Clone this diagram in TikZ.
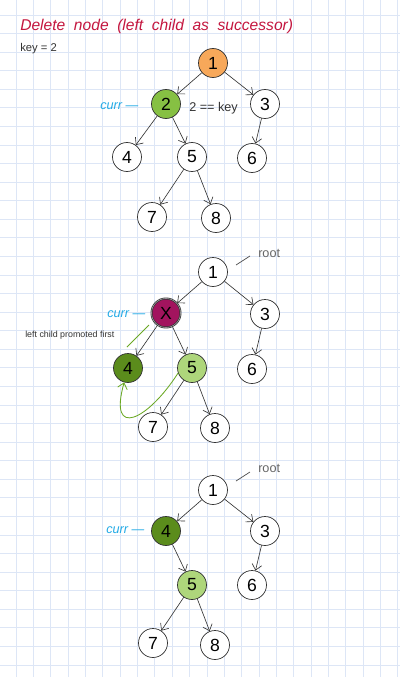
\documentclass[tikz,border=0pt]{standalone}
\usepackage{fontspec}
\setmainfont{Liberation Sans}
\usepackage{xcolor}
\usetikzlibrary{positioning,arrows.meta,calc}
\definecolor{gridblue}{HTML}{DDE6F6}
\definecolor{titlered}{HTML}{C4163F}
\definecolor{currblue}{HTML}{22AAE6}
\definecolor{rootorange}{HTML}{F7A85A}
\definecolor{hitgreen}{HTML}{86C043}
\definecolor{delmagenta}{HTML}{A2145E}
\definecolor{newgreen}{HTML}{5B8C1C}
\definecolor{lightgreen}{HTML}{AED67B}
\definecolor{hintgreen}{HTML}{6AA823}

\begin{document}
\begin{tikzpicture}[
   x=0.025cm, y=-0.025cm,
   tnode/.style = {circle, draw=black!80, fill=white, line width=0.5pt,
                   minimum size=29*0.025cm, inner sep=0pt,
                   font=\fontsize{12.5}{14}\selectfont},
   arr/.style = {-{Straight Barb[length=4pt,width=7pt]}, black!80, line width=0.45pt},
   currlbl/.style = {anchor=west, text=currblue, font=\fontsize{9}{10}\selectfont\itshape, inner sep=0pt},
   note/.style = {anchor=west, text=black!80, inner sep=0pt},
   promote/.style = {hintgreen, line width=0.6pt}
]
\useasboundingbox (0,0) rectangle (400,677);
\fill[white] (0,0) rectangle (400,677);
\foreach \i in {0,...,22} \draw[gridblue, line width=0.5pt] ({16+17.35*\i},0) -- ({16+17.35*\i},677);
\foreach \j in {0,...,35} \draw[gridblue, line width=0.5pt] (0,{15+18.57*\j}) -- (400,{15+18.57*\j});

\node[anchor=base west, inner sep=0pt, text=titlered,
      font=\fontsize{11.1}{13}\selectfont\itshape] (title) at (20,30)
      {\spaceskip=0.55em\relax Delete node (left child as successor)};
\node[note, font=\fontsize{8}{9}\selectfont] (key) at (20,49) {key = 2};

% first tree: find the key
\node[tnode, fill=rootorange] (a1) at (213,63)  {1};
\node[tnode, fill=hitgreen]   (a2) at (166,104) {2};
\node[tnode]                  (a3) at (265,104) {3};
\node[tnode]                  (a4) at (127,157) {4};
\node[tnode]                  (a5) at (192,157) {5};
\node[tnode]                  (a6) at (252,158) {6};
\node[tnode]                  (a7) at (152,217) {7};
\node[tnode]                  (a8) at (216,218) {8};
\node[currlbl] (acurr) at (100,106) {curr —};
\node[note, font=\fontsize{9}{10}\selectfont] (match) at (189,108) {2 == key};
\draw[arr] (a1) -- (a2);
\draw[arr] (a1) -- (a3);
\draw[arr] (a2) -- (a4);
\draw[arr] (a2) -- (a5);
\draw[arr] (a3) -- (a6);
\draw[arr] (a5) -- (a7);
\draw[arr] (a5) -- (a8);

% second tree: promote left child
\node[tnode]                  (b1) at (213,272) {1};
\node[tnode, fill=delmagenta, double=black!35, double distance=0.4pt]
                              (b2) at (166,313) {X};
\node[tnode]                  (b3) at (265,314) {3};
\node[tnode, fill=newgreen]   (b4) at (128,368) {4};
\node[tnode, fill=lightgreen] (b5) at (192,368) {5};
\node[tnode]                  (b6) at (252,369) {6};
\node[tnode]                  (b7) at (153,427) {7};
\node[tnode]                  (b8) at (215,428) {8};
\node[currlbl] (bcurr) at (107,314) {curr —};
\node[note, text=black!60, font=\fontsize{9}{10}\selectfont] (broot) at (258,253) {root};
\coordinate (brootA) at (236,265);
\coordinate (brootB) at (250,256);
\draw[black!70, line width=0.5pt] (brootA) -- (brootB);
\node[note, font=\fontsize{6.3}{7}\selectfont] (bnote) at (25,335) {left child promoted first};
\coordinate (hintA) at (149,325);
\coordinate (hintB) at (127,347);
\draw[promote] (hintA) -- (hintB);
\draw[arr] (b1) -- (b2);
\draw[arr] (b1) -- (b3);
\draw[arr] (b2) -- (b4);
\draw[arr] (b2) -- (b5);
\draw[arr] (b3) -- (b6);
\draw[arr] (b5) -- (b7);
\draw[arr] (b5) -- (b8);
\draw[promote, -{Straight Barb[length=4pt,width=7pt]}]
   (b5.200) .. controls (148,420) and (108,440) .. (b4.255);

% third tree: after deletion
\node[tnode]                  (c1) at (213,490) {1};
\node[tnode, fill=newgreen]   (c4) at (166,531) {4};
\node[tnode]                  (c3) at (265,531) {3};
\node[tnode, fill=lightgreen] (c5) at (192,585) {5};
\node[tnode]                  (c6) at (252,585) {6};
\node[tnode]                  (c7) at (153,643) {7};
\node[tnode]                  (c8) at (215,645) {8};
\node[currlbl] (ccurr) at (106,530) {curr —};
\node[note, text=black!60, font=\fontsize{9}{10}\selectfont] (croot) at (258,468) {root};
\coordinate (crootA) at (236,481);
\coordinate (crootB) at (250,472);
\draw[black!70, line width=0.5pt] (crootA) -- (crootB);
\draw[arr] (c1) -- (c4);
\draw[arr] (c1) -- (c3);
\draw[arr] (c4) -- (c5);
\draw[arr] (c3) -- (c6);
\draw[arr] (c5) -- (c7);
\draw[arr] (c5) -- (c8);
\end{tikzpicture}
\end{document}
